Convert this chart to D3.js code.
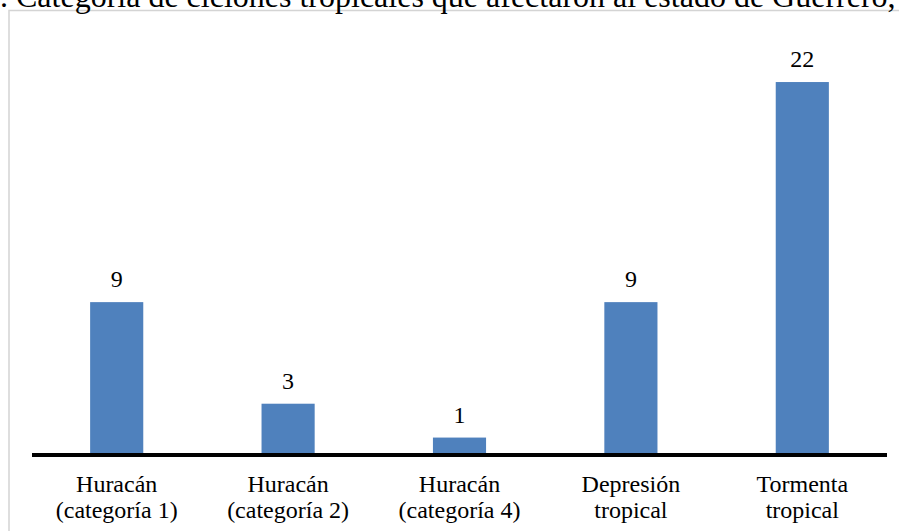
<!DOCTYPE html>
<html>
<head>
<meta charset="utf-8">
<script src="https://cdn.jsdelivr.net/npm/d3@7"></script>
<style>
  html, body { margin: 0; padding: 0; background: #fff; }
  svg { display: block; }
  svg text { font-family: "Liberation Serif", "Times New Roman", serif; fill: #000; }
</style>
</head>
<body>
<div id="chart"></div>
<script>
// categories (two lines each) and counts
const categories = [
    ['Huracán', '(categoría 1)'],
    ['Huracán', '(categoría 2)'],
    ['Huracán', '(categoría 4)'],
    ['Depresión', 'tropical'],
    ['Tormenta', 'tropical']
];
const counts = [9, 3, 1, 9, 22];
const titleText = '. Categoría de ciclones tropicales que afectaron al estado de Guerrero,';

const width = 899, height = 531;
const baseY = 454.5;

const svg = d3.select('#chart').append('svg')
    .attr('width', width)
    .attr('height', height);

// chart frame (partly off-page)
svg.append('rect')
    .attr('x', 9)
    .attr('y', 10.5)
    .attr('width', 920)
    .attr('height', 560)
    .attr('fill', '#fff')
    .attr('stroke', '#d4d4d4')
    .attr('stroke-width', 1.5);

// title, clipped at the top of the page
svg.append('text')
    .attr('x', 0)
    .attr('y', 7)
    .style('font-size', '32px')
    .text(titleText);

const x = d3.scaleBand()
    .domain(d3.range(counts.length))
    .range([31, 888])
    .paddingInner(0.69)
    .paddingOuter(0.345);

const y = d3.scaleLinear()
    .domain([0, 24])
    .range([baseY, baseY - 24 * 16.93]);

svg.selectAll('rect.bar')
    .data(counts)
    .join('rect')
    .attr('class', 'bar')
    .attr('x', (d, i) => x(i))
    .attr('y', d => y(d))
    .attr('width', x.bandwidth())
    .attr('height', d => y(0) - y(d))
    .attr('fill', '#4f81bd');

svg.selectAll('text.value')
    .data(counts)
    .join('text')
    .attr('class', 'value')
    .attr('x', (d, i) => x(i) + x.bandwidth() / 2)
    .attr('y', d => y(d) - 15)
    .attr('text-anchor', 'middle')
    .style('font-size', '24px')
    .text(d => d);

// axis line
svg.append('line')
    .attr('x1', 32)
    .attr('x2', 887)
    .attr('y1', y(0) + 0.5)
    .attr('y2', y(0) + 0.5)
    .attr('stroke', '#000')
    .attr('stroke-width', 4);

const labels = svg.selectAll('text.cat')
    .data(categories)
    .join('text')
    .attr('class', 'cat')
    .attr('text-anchor', 'middle')
    .style('font-size', '24px');

labels.each(function(d, i) {
    const t = d3.select(this);
    const cx = x(i) + x.bandwidth() / 2;
    d.forEach((line, k) => {
        t.append('tspan')
            .attr('x', cx)
            .attr('y', 492 + k * 26)
            .text(line);
    });
});
</script>
</body>
</html>
